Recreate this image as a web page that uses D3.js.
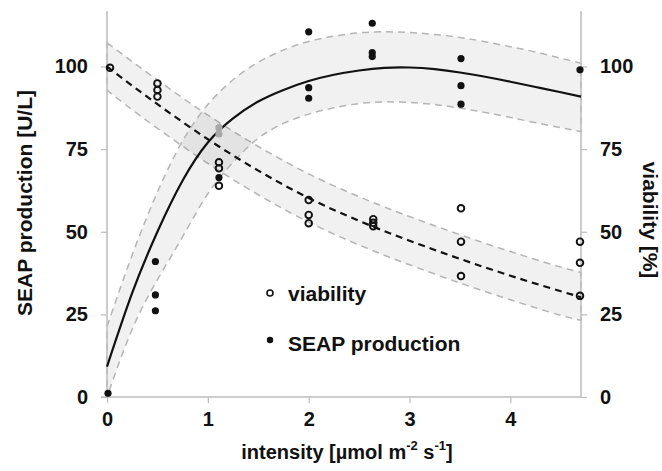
<!DOCTYPE html>
<html><head><meta charset="utf-8">
<script src="https://cdn.jsdelivr.net/npm/d3@7"></script>
<style>body{margin:0;background:#fff}svg{display:block}text{font-family:"Liberation Sans",Arial,sans-serif;font-weight:bold;fill:#111}</style>
</head><body><svg id="c" width="662" height="471"></svg>
<script>
// fitted curves
const fitX      = [0,0.25,0.5,0.75,1,1.25,1.5,1.75,2,2.25,2.5,2.75,3,3.25,3.5,3.75,4,4.25,4.5,4.7];
const seapFit   = [9.2,31.5,50,65.5,77,84.3,89.4,92.9,95.6,97.5,98.8,99.6,99.7,99.2,98.2,96.9,95.4,93.8,92.2,90.9];
const seapUpper = [21.3,43,62,77.5,88.5,96,101.3,105,107.6,109.2,110.2,110.5,110.3,109.7,108.8,107.5,106,104.4,102.5,101];
const seapLower = [0,20.5,35.5,48.5,61.5,71,78.3,82.8,85.6,87.5,88.8,89.3,89.1,88.5,87.4,86.1,84.6,83,81.5,80.3];
const viabFit   = [100,94.2,88.6,83.2,78,73.1,68.5,64.2,60.2,56.6,53.3,50.2,47.3,44.5,41.8,39.2,36.7,34.3,32,30.2];
const viabUpper = [107.2,101.5,95.9,90.5,85.3,80.4,75.8,71.5,67.5,63.9,60.6,57.5,54.6,51.8,49.1,46.5,44,41.6,39.3,37.7];
const viabLower = [92.8,86.9,81.3,75.9,70.7,65.8,61.2,56.9,52.9,49.3,46,42.9,40,37.2,34.5,31.9,29.4,27,24.7,23.2];
// measured points
const seapX = [0.01,0.48,0.48,0.48,1.11,2.0,2.0,2.0,2.63,2.63,2.63,3.51,3.51,3.51,4.69];
const seapY = [1.1,41,30.9,26.1,66.4,110.5,93.6,90.4,113.1,104.2,103,102.4,94.2,88.6,99];
const seapGreyX = [1.11,1.11];
const seapGreyY = [81.5,79.6];
const viabX = [0.03,0.5,0.5,0.5,1.11,1.11,1.11,2.0,2.0,2.0,2.64,2.64,2.64,3.51,3.51,3.51,4.69,4.69,4.69];
const viabY = [99.6,94.9,92.9,90.9,71,69.2,63.9,59.6,55.1,52.6,53.8,52.7,51.7,57.1,47,36.6,47,40.6,30.6];
const xTicks = [0,1,2,3,4];
const yTicks = [0,25,50,75,100];

const svg = d3.select("#c");
const x = d3.scaleLinear().domain([0,4.7]).range([107,581]);
const y = d3.scaleLinear().domain([0,116.8]).range([397,11]);
const axisCol = "#bdbdbd";

const area = (lo,hi) => d3.area().x((d,i)=>x(fitX[i])).y0((d,i)=>y(lo[i])).y1((d,i)=>y(hi[i])).curve(d3.curveNatural)(fitX);
const line = (v) => d3.line().x((d,i)=>x(fitX[i])).y((d,i)=>y(v[i])).curve(d3.curveNatural)(fitX);

// bands
[[viabLower,viabUpper],[seapLower,seapUpper]].forEach(([lo,hi])=>{
  svg.append("path").attr("d",area(lo,hi)).attr("fill","#000").attr("fill-opacity",0.055)
    .attr("stroke","#b5b5b5").attr("stroke-width",1.5).attr("stroke-dasharray","7,5");
});

// axes
const gL = svg.append("g").attr("transform","translate(107,0)").call(d3.axisLeft(y).tickValues(yTicks).tickSize(6).tickFormat(d3.format("d")));
const gR = svg.append("g").attr("transform","translate(581,0)").call(d3.axisRight(y).tickValues(yTicks).tickSize(6).tickFormat(d3.format("d")));
const gB = svg.append("g").attr("transform","translate(0,397)").call(d3.axisBottom(x).tickValues(xTicks).tickSize(6).tickFormat(d3.format("d")));
[gL,gR,gB].forEach(g=>{
  g.select(".domain").attr("stroke",axisCol).attr("stroke-width",1.5);
  g.selectAll(".tick line").attr("stroke",axisCol).attr("stroke-width",1.2);
  g.selectAll("text").style("font-size","20px").style("font-weight","bold").style("font-family","'Liberation Sans',Arial,sans-serif").attr("fill","#111");
});
gL.select(".domain").attr("d","M0,397V11");
gR.select(".domain").attr("d","M0,397V11");
gB.select(".domain").attr("d","M101,0H581");
gL.selectAll(".tick text").attr("x",-19);
gR.selectAll(".tick text").attr("x",19);
gB.selectAll(".tick text").attr("y",15);

// fit lines
svg.append("path").attr("d",line(seapFit)).attr("fill","none").attr("stroke","#111").attr("stroke-width",2.2);
svg.append("path").attr("d",line(viabFit)).attr("fill","none").attr("stroke","#111").attr("stroke-width",2.2).attr("stroke-dasharray","7,5");

// points
svg.selectAll(".pg").data(seapGreyX).join("circle").attr("cx",(d)=>x(d)).attr("cy",(d,i)=>y(seapGreyY[i])).attr("r",3.6).attr("fill","#a8a8a8");
svg.selectAll(".ps").data(seapX).join("circle").attr("cx",(d)=>x(d)).attr("cy",(d,i)=>y(seapY[i])).attr("r",3.6).attr("fill","#111");
svg.selectAll(".pv").data(viabX).join("circle").attr("cx",(d)=>x(d)).attr("cy",(d,i)=>y(viabY[i])).attr("r",3.3).attr("fill","none").attr("stroke","#111").attr("stroke-width",1.9);

// legend
svg.append("circle").attr("cx",270).attr("cy",293).attr("r",3).attr("fill","none").attr("stroke","#111").attr("stroke-width",1.6);
svg.append("text").attr("x",288).attr("y",301).style("font-size","21px").text("viability");
svg.append("circle").attr("cx",270).attr("cy",340).attr("r",3.2).attr("fill","#111");
svg.append("text").attr("x",288).attr("y",351).style("font-size","21px").text("SEAP production");

// axis titles
svg.append("text").attr("transform","translate(32,203) rotate(-90)").attr("text-anchor","middle").style("font-size","21px").text("SEAP production [U/L]");
svg.append("text").attr("transform","translate(643,220) rotate(90)").attr("text-anchor","middle").style("font-size","21px").text("viability [%]");
const xt = svg.append("text").attr("x",347).attr("y",459).attr("text-anchor","middle").style("font-size","20px");
xt.append("tspan").text("intensity [µmol m");
xt.append("tspan").attr("dy",-9).style("font-size","13px").text("-2");
xt.append("tspan").attr("dy",9).text(" s");
xt.append("tspan").attr("dy",-9).style("font-size","13px").text("-1");
xt.append("tspan").attr("dy",9).text("]");
</script></body></html>
